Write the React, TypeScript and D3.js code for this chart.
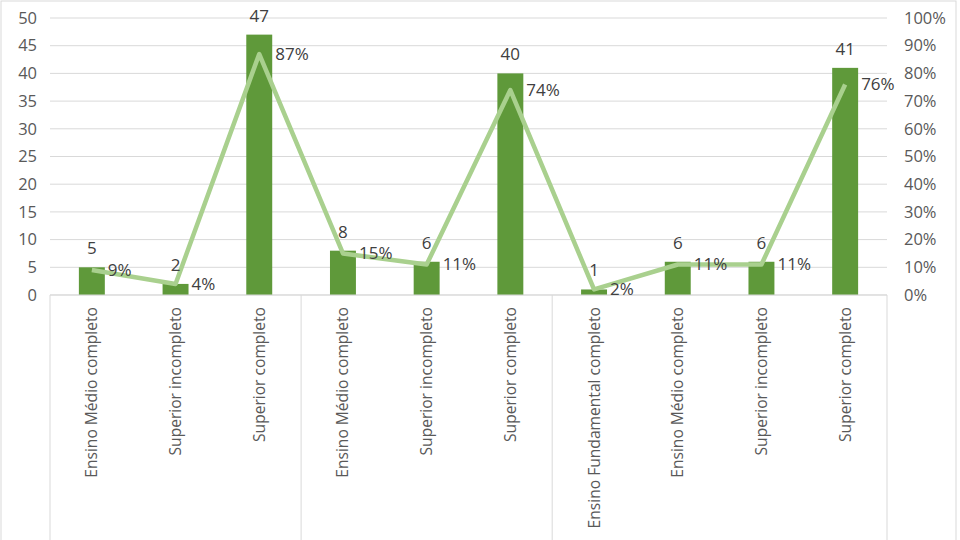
import * as React from 'react';
import * as d3 from 'd3';

const categories = [
  'Ensino Médio completo', 'Superior incompleto', 'Superior completo',
  'Ensino Médio completo', 'Superior incompleto', 'Superior completo',
  'Ensino Fundamental completo', 'Ensino Médio completo', 'Superior incompleto', 'Superior completo',
];
const groupSizes = [3, 3, 4];
const counts = [5, 2, 47, 8, 6, 40, 1, 6, 6, 41];
const shares = [0.09, 0.04, 0.87, 0.15, 0.11, 0.74, 0.02, 0.11, 0.11, 0.76];
const leftTicks = [0, 5, 10, 15, 20, 25, 30, 35, 40, 45, 50];
const rightTicks = [0, 0.1, 0.2, 0.3, 0.4, 0.5, 0.6, 0.7, 0.8, 0.9, 1];

const W = 960;
const H = 540;
const margin = { top: 18, right: 73, bottom: 245, left: 50 };
const font = '"Open Sans", "Noto Sans", sans-serif';

export default function App() {
  const plotW = W - margin.left - margin.right;
  const plotH = H - margin.top - margin.bottom;
  const idx = categories.map((_, i) => i);

  const x = d3.scaleBand<number>().domain(idx).range([0, plotW]);
  const y = d3.scaleLinear().domain([0, 50]).range([plotH, 0]);
  const y2 = d3.scaleLinear().domain([0, 1]).range([plotH, 0]);
  const barW = x.bandwidth() * 0.31;
  const cx = (i: number) => x(i)! + x.bandwidth() / 2;
  const pct = d3.format('.0%');

  const line = d3.line<number>()
    .x((_, i) => cx(i))
    .y(d => y2(d));

  // group boundaries
  const bounds: number[] = [0];
  groupSizes.reduce((acc, n) => { bounds.push(acc + n); return acc + n; }, 0);

  return (
    <div style={{ position: 'fixed', left: 0, top: 0 }}>
      <svg width={W} height={H} style={{ display: 'block', background: '#fff' }}>
        <rect x={1} y={1} width={W - 5} height={H + 4} fill="none" stroke="#d9d9d9" strokeWidth={1} />
        <g transform={`translate(${margin.left},${margin.top})`}>
          {leftTicks.map(t => (
            <line key={t} x1={0} x2={plotW} y1={y(t)} y2={y(t)} stroke="#d9d9d9" strokeWidth={1} />
          ))}
          {leftTicks.map(t => (
            <text key={'l' + t} x={-13} y={y(t)} dy="0.35em" textAnchor="end" fontFamily={font} fontSize={16.5} fill="#595959">{t}</text>
          ))}
          {rightTicks.map(t => (
            <text key={'r' + t} x={plotW + 17} y={y2(t)} dy="0.35em" textAnchor="start" fontFamily={font} fontSize={16.5} fill="#595959">{pct(t)}</text>
          ))}
          {bounds.map(b => {
            const bx = b < categories.length ? x(b)! : plotW;
            return <line key={'b' + b} x1={bx} x2={bx} y1={plotH} y2={H} stroke="#d9d9d9" strokeWidth={1} />;
          })}
          {counts.map((v, i) => (
            <rect key={'bar' + i} x={cx(i) - barW / 2} y={y(v)} width={barW} height={plotH - y(v)} fill="#5f993a" />
          ))}
          <line x1={0} x2={plotW} y1={plotH} y2={plotH} stroke="#d9d9d9" strokeWidth={1} />
          <path d={line(shares) || ''} fill="none" stroke="#a9d08e" strokeWidth={4.5} strokeLinejoin="round" />
          {counts.map((v, i) => (
            <text key={'cv' + i} x={cx(i)} y={y(v) - 13} textAnchor="middle" fontFamily={font} fontSize={17} fill="#404040">{v}</text>
          ))}
          {shares.map((v, i) => (
            <text key={'sv' + i} x={cx(i) + 16} y={y2(v)} dy="0.35em" textAnchor="start" fontFamily={font} fontSize={17} fill="#404040">{pct(v)}</text>
          ))}
          {categories.map((c, i) => (
            <text key={'c' + i} transform={`translate(${cx(i)},${plotH + 12}) rotate(-90)`} dy="0.35em" textAnchor="end" fontFamily={font} fontSize={15.6} fill="#595959">{c}</text>
          ))}
        </g>
      </svg>
    </div>
  );
}
